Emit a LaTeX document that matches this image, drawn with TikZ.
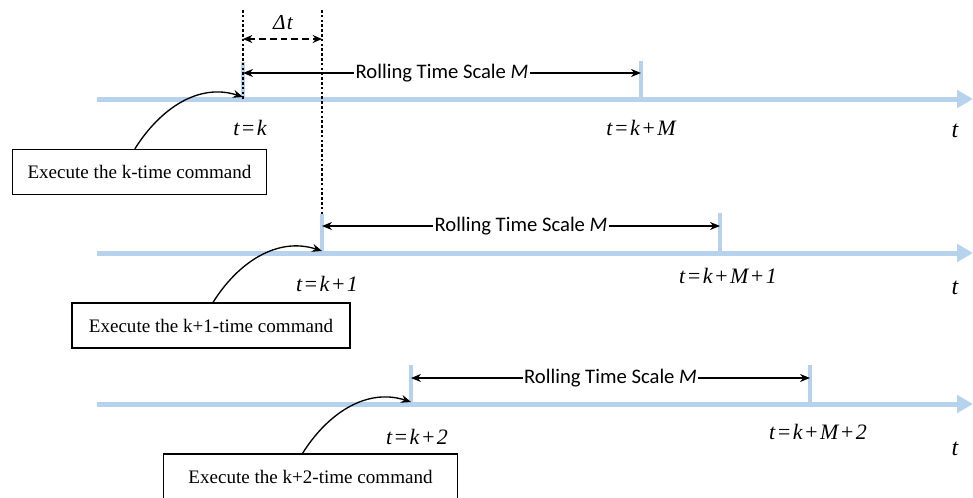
\documentclass[tikz,border=0pt]{standalone}
\usepackage{fontspec}
\setmainfont{Liberation Serif}[ItalicFont={Liberation Serif Italic}]
\newfontfamily\rollfont{Carlito}
\newfontfamily\lblfont{Liberation Serif Italic}[LetterSpace=6]
\usetikzlibrary{arrows.meta,positioning}
\definecolor{axisblue}{RGB}{183,210,236}
\tikzset{
	timeaxis/.style={draw=axisblue,line width=3.75pt,-{Triangle[length=12pt,width=13pt]}},
	tickline/.style={draw=axisblue,line width=3pt},
	rolling/.style={draw=black,line width=1.1pt,{Stealth[length=7.5pt,width=6pt]}-{Stealth[length=7.5pt,width=6pt]}},
	rolltext/.style={fill=white,inner sep=1pt,font=\rollfont\fontsize{15.5}{18}\selectfont},
	tlabel/.style={font=\lblfont\fontsize{16.5}{20}\selectfont},
	cmdbox/.style={draw=black,line width=0.9pt,minimum height=33.75pt,inner sep=0pt,font=\fontsize{14.3}{17}\selectfont},
	guide/.style={draw=black,line width=1.7pt,dash pattern=on 2pt off 1.6pt},
	curved/.style={draw=black,line width=1pt,-{Stealth[length=7.5pt,width=6pt]}}
}
\begin{document}
\begin{tikzpicture}[x=0.75pt,y=-0.75pt]
			\useasboundingbox (0,0) rectangle (973,497);
			% first window
			\begin{scope}
				\coordinate (a1) at (97,99);
				\coordinate (b1) at (973,99);
				\coordinate (k1) at (243,99);
				\coordinate (m1) at (641,99);
				\path[timeaxis] (a1)--(b1);
				\path[tickline] (k1)--(243,62) coordinate (k1t);
				\path[tickline] (m1)--(641,61) coordinate (m1t);
				\path[rolling] (243,73) coordinate (r1a)--node[rolltext]{Rolling Time Scale \textit{M}} (641,73) coordinate (r1b);
				\node[tlabel] (lk1) at (250,128) {t=k};
				\node[tlabel] (lm1) at (641,128) {t=k+M};
				\node[tlabel,font=\lblfont\fontsize{18}{20}\selectfont] (t1) at (955,131) {t};
				\node[cmdbox,minimum width=191pt] (cmd1) at (139.5,172) {Execute the k-time command};
				\path[curved] ([xshift=-3.5pt]cmd1.north) to[out=58,in=162] ([yshift=1.5pt]k1);
			\end{scope}
			% shift by one step
			\begin{scope}
				\coordinate (g1) at (243,10);
				\coordinate (g2) at (322,10);
				\path[guide] (g1)--(k1);
				\path[guide] (g2)--(322,253) coordinate (k2);
				\path[draw=black,line width=1.2pt,dash pattern=on 5pt off 3pt,{Stealth[length=7pt,width=6pt]}-{Stealth[length=7pt,width=6pt]}] (243,39) coordinate (d1)--(322,39) coordinate (d2);
				\node[font=\lblfont\fontsize{16}{18}\selectfont] (dt) at (283,23) {Δt};
			\end{scope}
			% second window
			\begin{scope}
				\coordinate (a2) at (97,253);
				\coordinate (b2) at (973,253);
				\coordinate (m2) at (720,253);
				\path[timeaxis] (a2)--(b2);
				\path[tickline] (k2)--(322,214) coordinate (k2t);
				\path[tickline] (m2)--(720,213) coordinate (m2t);
				\path[rolling] (322,226) coordinate (r2a)--node[rolltext]{Rolling Time Scale \textit{M}} (720,226) coordinate (r2b);
				\node[tlabel] (lk2) at (327,284) {t=k+1};
				\node[tlabel] (lm2) at (728,276) {t=k+M+1};
				\node[tlabel,font=\lblfont\fontsize{18}{20}\selectfont] (t2) at (955,288) {t};
				\node[cmdbox,minimum width=208.5pt] (cmd2) at (211,325.5) {Execute the k+1-time command};
				\path[curved] ([xshift=1.5pt]cmd2.north) to[out=58,in=162] ([yshift=1.5pt]k2);
			\end{scope}
			% third window
			\begin{scope}
				\coordinate (a3) at (97,404);
				\coordinate (b3) at (973,404);
				\coordinate (k3) at (411,404);
				\coordinate (m3) at (810,404);
				\path[timeaxis] (a3)--(b3);
				\path[tickline] (k3)--(411,365) coordinate (k3t);
				\path[tickline] (m3)--(810,365) coordinate (m3t);
				\path[rolling] (411,378) coordinate (r3a)--node[rolltext]{Rolling Time Scale \textit{M}} (810,378) coordinate (r3b);
				\node[tlabel] (lk3) at (417,437) {t=k+2};
				\node[tlabel] (lm3) at (818,432) {t=k+M+2};
				\node[tlabel,font=\lblfont\fontsize{18}{20}\selectfont] (t3) at (955,449) {t};
				\node[cmdbox,minimum width=221pt] (cmd3) at (310.5,476.5) {Execute the k+2-time command};
				\path[curved] ([xshift=-6pt]cmd3.north) to[out=58,in=162] ([yshift=1.5pt]k3);
			\end{scope}
\end{tikzpicture}
\end{document}
